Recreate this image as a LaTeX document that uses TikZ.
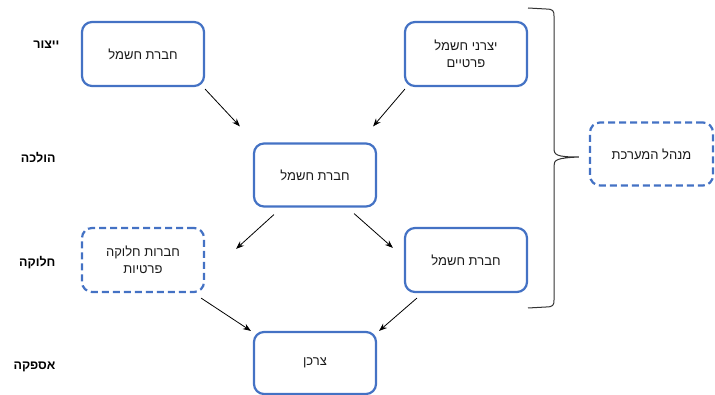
\documentclass[tikz,border=0pt]{standalone}
\usepackage{fontspec}
\setmainfont{Liberation Sans}
\newfontfamily\heb[Script=Hebrew]{Liberation Sans}
\newfontfamily\hebb[Script=Hebrew]{Liberation Sans Bold}
\TeXXeTstate=1
\usetikzlibrary{calc,arrows.meta}
\definecolor{boxblue}{HTML}{4472C4}
\begin{document}
\begin{tikzpicture}[x=1pt,y=-1pt,
  box/.style={draw=boxblue, line width=2.2pt, rounded corners=10pt, minimum width=122pt, minimum height=64pt, align=center, font=\heb\fontsize{13}{16.5}\selectfont, text=black!90},
  dbox/.style={box, dash pattern=on 7pt off 4pt},
  lvl/.style={anchor=east, font=\hebb\fontsize{12.5}{14}\selectfont},
  arr/.style={-{Stealth[length=8pt,width=6pt]}, line width=0.8pt},
  brace/.style={draw=black!80, line width=1pt}]
\useasboundingbox (0,0) rectangle (715,395);
\node[box] (A) at (143,54) {\beginR חברת חשמל\endR};
\node[box] (B) at (466,54) {\beginR יצרני חשמל\endR\\\beginR פרטיים\endR};
\node[box, minimum height=63pt] (C) at (315,175) {\beginR חברת חשמל\endR};
\node[box] (D) at (466,260) {\beginR חברת חשמל\endR};
\node[dbox] (E) at (143,260) {\beginR חברות חלוקה\endR\\\beginR פרטיות\endR};
\node[box, minimum height=62pt] (F) at (315,363) {\beginR צרכן\endR};
\node[dbox, minimum width=123pt, minimum height=63pt] (G) at (651.5,154) {\beginR מנהל המערכת\endR};
\node[lvl] (L1) at (63,45) {\beginR ייצור\endR};
\node[lvl] (L2) at (59,158) {\beginR הולכה\endR};
\node[lvl] (L3) at (59,263) {\beginR חלוקה\endR};
\node[lvl] (L4) at (59,367) {\beginR אספקה\endR};
\draw[arr] ($(A.south east)+(0,2)$) -- ($(C.north west)+(-13,-16)$);
\draw[arr] ($(B.south west)+(1,2)$) -- ($(C.north east)+(-4,-16)$);
\draw[arr] ($(C.south west)+(21,7)$) -- ($(E.north east)+(31,22)$);
\draw[arr] ($(C.south east)+(-23,6)$) -- ($(D.north west)+(-11,21)$);
\draw[arr] ($(D.south west)+(13,5)$) -- ($(F.north east)+(2,0)$);
\draw[arr] ($(E.south east)+(-4,5)$) -- ($(F.north west)+(-2,0)$);
\coordinate (bt) at (528,8);
\coordinate (bb) at (528,308);
\draw[brace] (bt) -- (546,9) .. controls (553,9) and (554,11) .. (554,16) -- (554,148) .. controls (554,155) and (556,157) .. ($(G.west)+(-10,3)$) .. controls (556,158) and (554,160) .. (554,166) -- (554,300) .. controls (554,305) and (553,307) .. (546,307) -- (bb);
\end{tikzpicture}
\end{document}
